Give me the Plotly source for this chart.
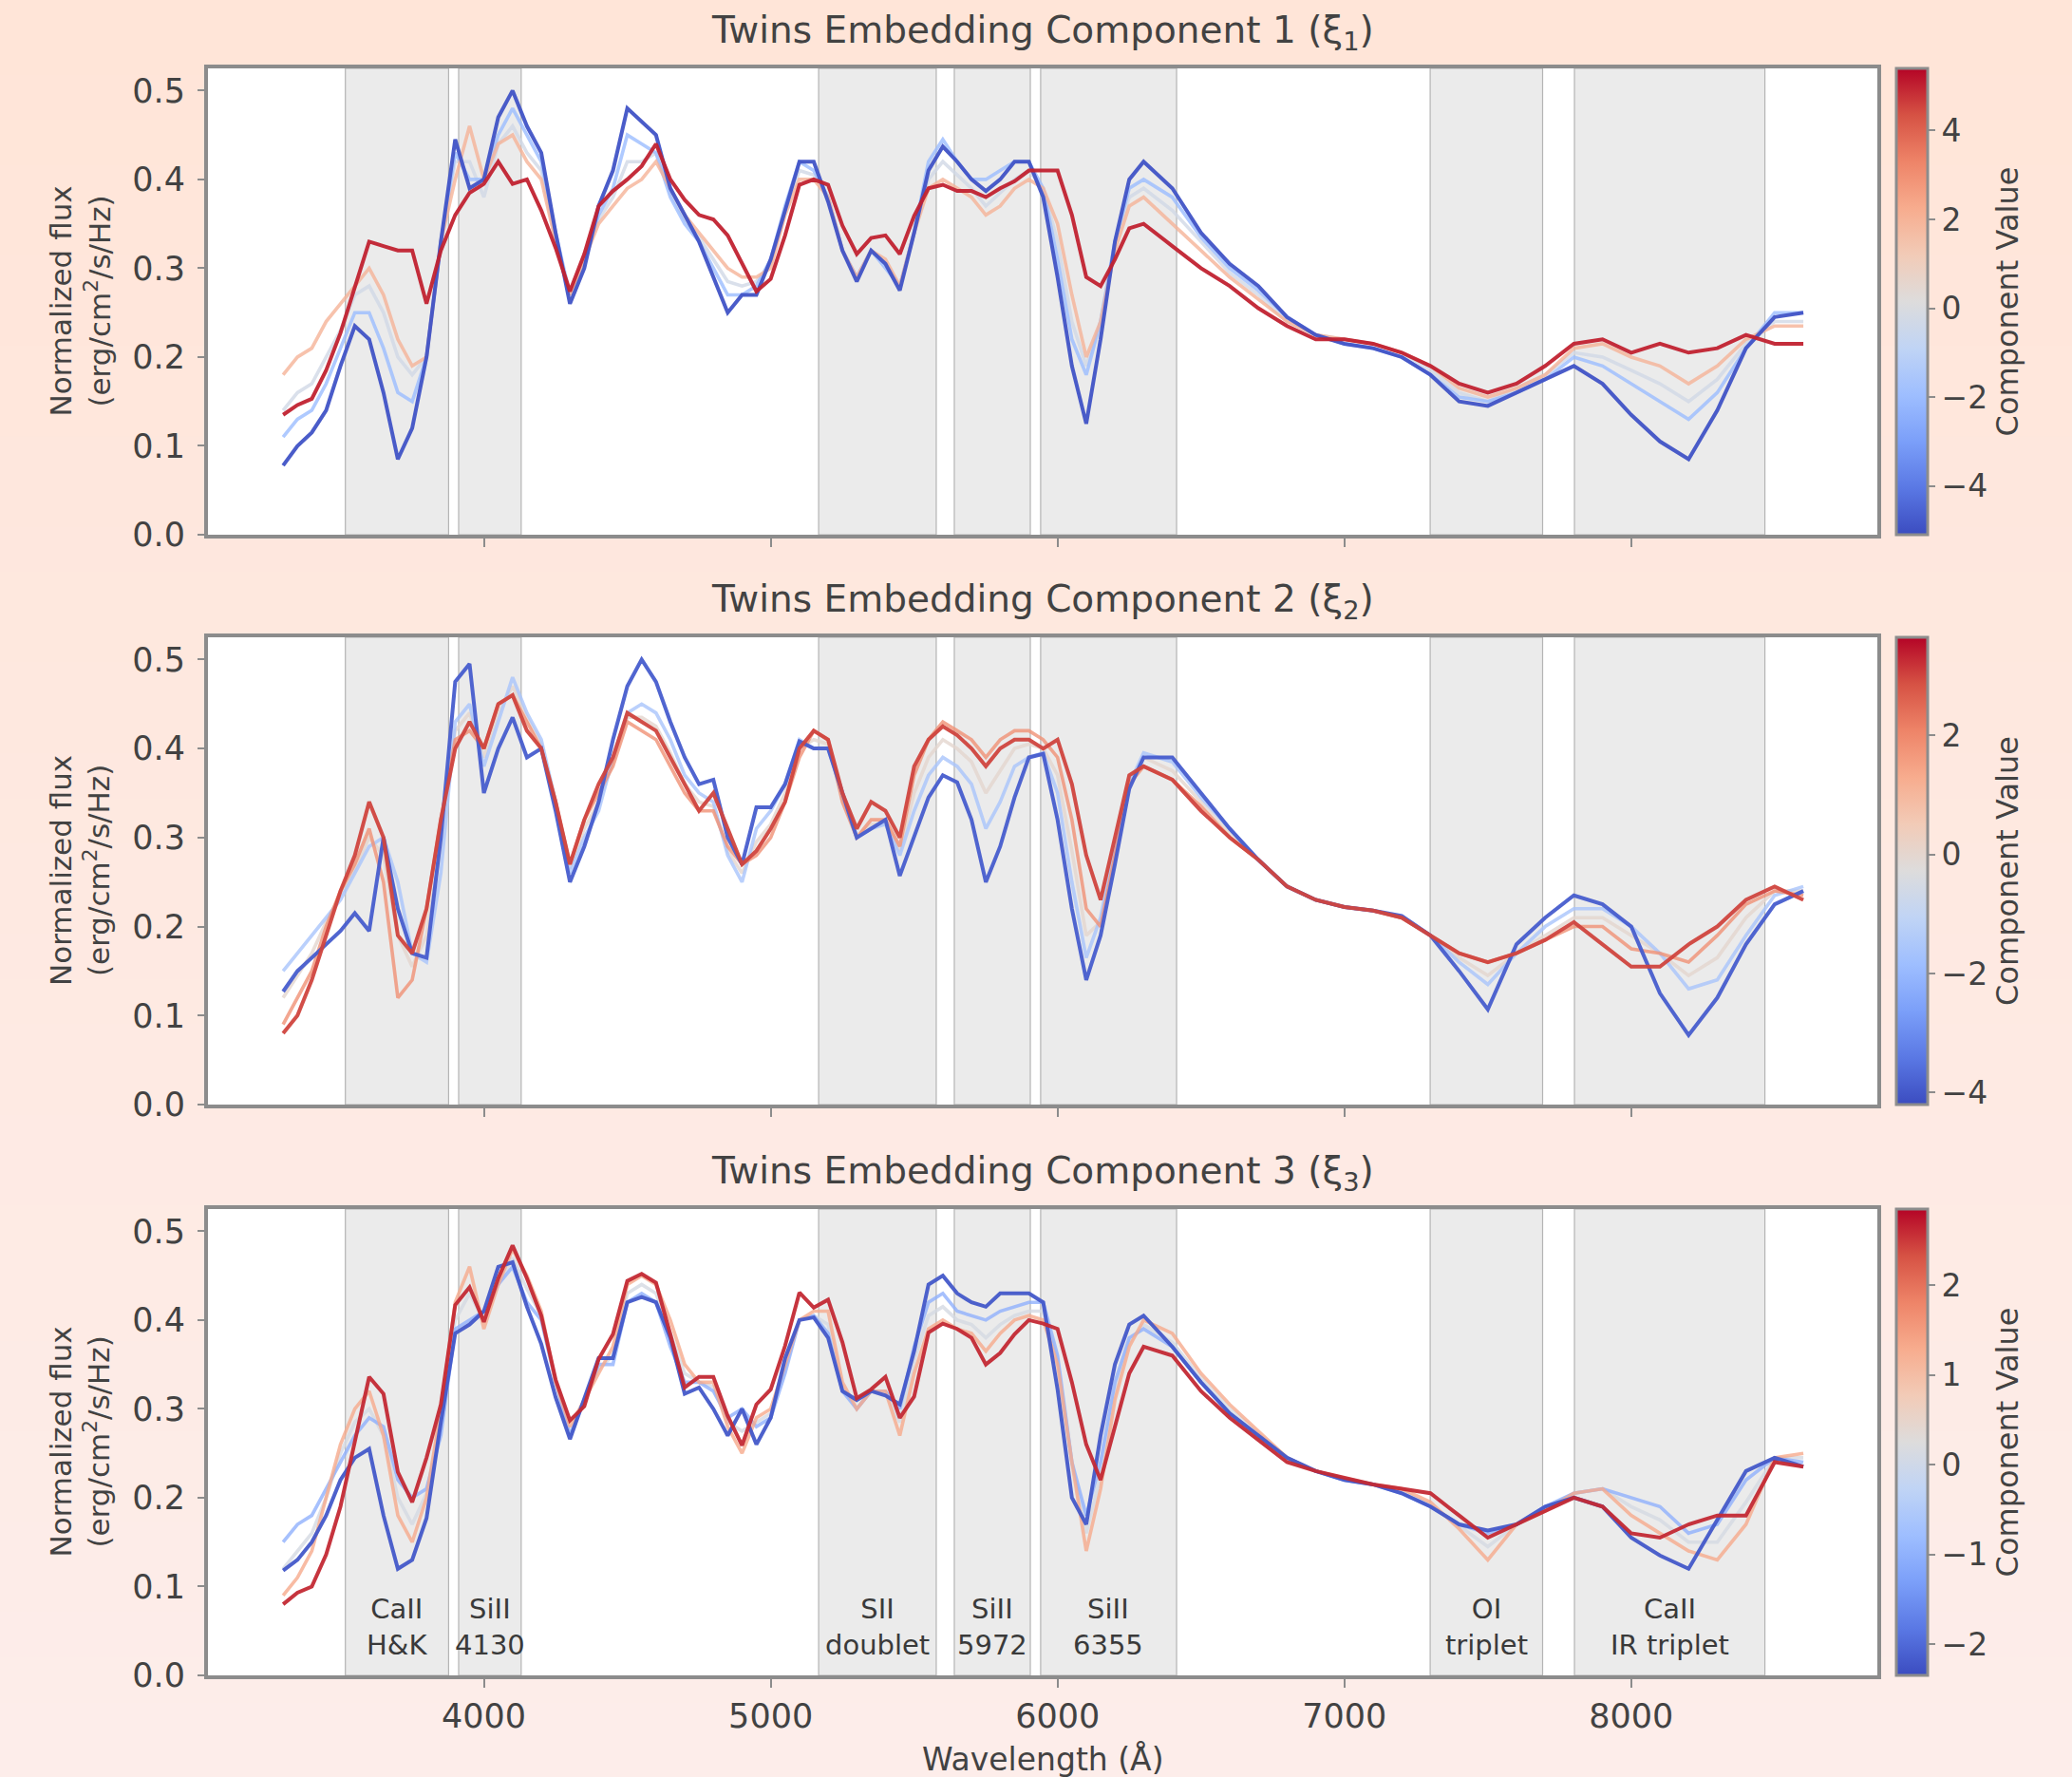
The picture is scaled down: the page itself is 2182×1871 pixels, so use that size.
import plotly.graph_objects as go

# ---------------- data ----------------
wavelength = [3300, 3350, 3400, 3450, 3500, 3550, 3600, 3650, 3700, 3750,
              3800, 3850, 3900, 3950, 4000, 4050, 4100, 4150, 4200, 4250,
              4300, 4350, 4400, 4450, 4500, 4550, 4600, 4650, 4700, 4750,
              4800, 4850, 4900, 4950, 5000, 5050, 5100, 5150, 5200, 5250,
              5300, 5350, 5400, 5450, 5500, 5550, 5600, 5650, 5700, 5750,
              5800, 5850, 5900, 5950, 6000, 6050, 6100, 6150, 6200, 6250,
              6300, 6400, 6500, 6600, 6700, 6800, 6900, 7000, 7100, 7200,
              7300, 7400, 7500, 7600, 7700, 7800, 7900, 8000, 8100, 8200,
              8300, 8400, 8500, 8600]

# Component 1 spectra (component values listed in comp1_values)
comp1_values = [-4.9, -2.0, -0.3, 2.0, 5.0]
comp1_flux_a = [.078, .10, .115, .14, .19, .235, .22, .16, .085, .12,
                .20, .33, .445, .39, .40, .47, .50, .46, .43, .34,
                .26, .30, .37, .41, .48, .465, .45, .39, .36, .33,
                .29, .25, .27, .27, .31, .365, .42, .42, .375, .32,
                .285, .32, .305, .275, .34, .41, .437, .42, .40, .387,
                .40, .42, .42, .38, .29, .19, .125, .22, .33, .40,
                .42, .39, .34, .305, .28, .245, .225, .215, .21, .20,
                .18, .15, .145, .16, .175, .19, .17, .135, .105, .085,
                .14, .21, .245, .25]
comp1_flux_b = [.11, .13, .14, .17, .21, .25, .25, .21, .16, .15,
                .20, .33, .43, .40, .40, .45, .48, .45, .42, .34,
                .27, .31, .36, .39, .45, .44, .43, .38, .35, .33,
                .30, .27, .27, .28, .31, .37, .42, .41, .38, .32,
                .29, .32, .30, .28, .34, .42, .445, .42, .40, .40,
                .41, .42, .42, .39, .31, .22, .18, .24, .33, .39,
                .40, .38, .335, .30, .275, .245, .225, .215, .21, .20,
                .18, .155, .15, .16, .175, .20, .19, .17, .15, .13,
                .16, .21, .25, .25]
comp1_flux_c = [.14, .16, .17, .20, .23, .27, .28, .25, .20, .18,
                .20, .33, .42, .42, .38, .44, .46, .43, .41, .33,
                .27, .31, .355, .38, .42, .42, .43, .385, .355, .335,
                .31, .285, .28, .285, .305, .365, .41, .405, .38, .32,
                .29, .32, .305, .28, .34, .40, .42, .405, .39, .37,
                .385, .40, .41, .39, .33, .24, .19, .24, .33, .38,
                .39, .365, .33, .295, .27, .24, .225, .22, .215, .205,
                .185, .16, .15, .165, .18, .205, .20, .185, .17, .15,
                .175, .215, .24, .24]
comp1_flux_d = [.18, .20, .21, .24, .26, .28, .30, .27, .22, .19,
                .20, .33, .40, .46, .40, .44, .45, .42, .40, .33,
                .27, .31, .35, .37, .39, .40, .42, .39, .36, .34,
                .32, .30, .29, .29, .30, .36, .40, .40, .38, .32,
                .29, .32, .31, .28, .34, .39, .40, .39, .38, .36,
                .37, .39, .40, .39, .35, .27, .20, .24, .32, .37,
                .38, .35, .32, .29, .265, .24, .225, .22, .215, .205,
                .19, .165, .155, .165, .18, .21, .215, .20, .19, .17,
                .19, .22, .235, .235]
comp1_flux_e = [.135, .146, .153, .185, .227, .28, .33, .325, .32, .32,
                .26, .32, .36, .385, .395, .42, .395, .40, .365, .323,
                .274, .316, .37, .387, .40, .415, .44, .40, .377, .36,
                .355, .337, .305, .274, .288, .337, .394, .40, .394, .348,
                .316, .334, .337, .316, .359, .39, .394, .387, .387, .38,
                .39, .398, .41, .41, .41, .36, .29, .28, .31, .345,
                .35, .325, .30, .28, .255, .235, .22, .22, .215, .205,
                .19, .17, .16, .17, .19, .215, .22, .205, .215, .205,
                .21, .225, .215, .215]

# Component 2 spectra
comp2_values = [-3.9, -1.6, 0.0, 1.8, 3.0]
comp2_flux_a = [.127, .15, .165, .18, .195, .215, .195, .30, .22, .17,
                .165, .30, .475, .495, .35, .40, .435, .39, .40, .33,
                .25, .29, .34, .41, .47, .50, .475, .43, .39, .36,
                .365, .30, .27, .334, .334, .36, .408, .40, .40, .35,
                .30, .31, .32, .257, .30, .345, .37, .362, .32, .25,
                .29, .345, .39, .394, .32, .22, .14, .19, .27, .355,
                .39, .39, .35, .31, .275, .245, .23, .222, .218, .212,
                .19, .15, .107, .18, .21, .235, .225, .20, .125, .078,
                .12, .18, .225, .24]
comp2_flux_b = [.15, .17, .19, .21, .23, .26, .29, .30, .25, .17,
                .16, .26, .43, .45, .38, .43, .48, .44, .41, .34,
                .26, .30, .33, .39, .44, .45, .44, .41, .37, .35,
                .34, .28, .25, .31, .33, .36, .41, .40, .40, .35,
                .30, .31, .315, .28, .33, .37, .39, .38, .36, .31,
                .34, .38, .39, .395, .35, .25, .165, .21, .29, .36,
                .395, .385, .345, .31, .275, .245, .23, .222, .218, .21,
                .19, .16, .135, .17, .20, .22, .22, .20, .17, .13,
                .14, .19, .235, .245]
comp2_flux_c = [.12, .145, .17, .205, .235, .265, .30, .28, .19, .155,
                .19, .29, .42, .44, .39, .44, .47, .435, .405, .34,
                .265, .31, .34, .385, .435, .435, .425, .395, .36, .34,
                .335, .285, .26, .295, .315, .35, .40, .41, .405, .345,
                .30, .315, .315, .285, .35, .39, .41, .40, .385, .35,
                .375, .40, .405, .40, .37, .285, .19, .205, .285, .36,
                .39, .375, .34, .305, .275, .245, .23, .222, .218, .21,
                .19, .165, .145, .17, .19, .21, .21, .19, .17, .145,
                .165, .21, .24, .24]
comp2_flux_d = [.09, .12, .15, .20, .24, .27, .31, .25, .12, .14,
                .22, .32, .41, .42, .40, .45, .46, .43, .40, .34,
                .27, .32, .35, .38, .43, .42, .41, .38, .35, .33,
                .33, .29, .27, .28, .30, .34, .39, .42, .41, .34,
                .30, .32, .32, .29, .37, .41, .43, .42, .41, .39,
                .41, .42, .42, .41, .39, .32, .22, .20, .28, .36,
                .38, .365, .335, .30, .275, .245, .23, .222, .218, .21,
                .19, .17, .16, .17, .185, .20, .20, .175, .17, .16,
                .19, .225, .24, .235]
comp2_flux_e = [.08, .10, .14, .19, .24, .28, .34, .30, .19, .17,
                .22, .32, .40, .43, .40, .45, .46, .42, .40, .34,
                .27, .32, .36, .39, .44, .43, .42, .39, .36, .33,
                .35, .31, .27, .285, .31, .34, .40, .42, .41, .35,
                .31, .34, .33, .30, .38, .41, .425, .415, .40, .38,
                .40, .41, .41, .40, .41, .36, .28, .23, .30, .37,
                .38, .365, .33, .30, .275, .245, .23, .222, .218, .21,
                .19, .17, .16, .17, .185, .205, .18, .155, .155, .18,
                .20, .23, .245, .23]

# Component 3 spectra
comp3_values = [-2.2, -1.0, 0.1, 1.3, 2.6]
comp3_flux_a = [.118, .13, .15, .18, .22, .245, .255, .18, .12, .13,
                .177, .285, .385, .395, .41, .46, .465, .415, .373, .313,
                .266, .313, .357, .357, .42, .426, .42, .38, .317, .324,
                .30, .27, .30, .26, .29, .357, .40, .403, .38, .32,
                .31, .32, .315, .305, .365, .44, .45, .43, .42, .415,
                .43, .43, .43, .42, .322, .20, .17, .27, .35, .395,
                .405, .37, .33, .295, .27, .245, .23, .22, .215, .205,
                .19, .17, .163, .17, .19, .20, .19, .155, .135, .12,
                .175, .23, .245, .235]
comp3_flux_b = [.15, .17, .18, .21, .24, .27, .29, .28, .22, .20,
                .21, .27, .39, .40, .41, .44, .46, .42, .40, .33,
                .27, .31, .35, .35, .42, .43, .42, .37, .33, .33,
                .32, .29, .30, .28, .29, .34, .40, .405, .385, .32,
                .30, .32, .32, .30, .37, .42, .43, .41, .405, .40,
                .41, .415, .42, .42, .36, .24, .18, .24, .33, .38,
                .39, .37, .33, .295, .27, .245, .23, .22, .215, .205,
                .19, .17, .16, .17, .19, .205, .21, .20, .19, .16,
                .17, .22, .245, .24]
comp3_flux_c = [.12, .14, .16, .20, .25, .285, .30, .27, .20, .17,
                .205, .29, .40, .43, .40, .44, .47, .435, .405, .33,
                .275, .31, .345, .36, .43, .44, .43, .385, .34, .33,
                .325, .285, .275, .285, .295, .345, .40, .405, .395, .325,
                .30, .32, .32, .285, .355, .405, .415, .40, .395, .38,
                .395, .405, .41, .41, .355, .24, .16, .225, .32, .375,
                .395, .375, .335, .30, .272, .245, .23, .22, .215, .207,
                .192, .168, .145, .17, .188, .205, .21, .19, .175, .15,
                .15, .195, .245, .245]
comp3_flux_d = [.09, .11, .14, .20, .26, .30, .32, .27, .18, .15,
                .20, .30, .42, .46, .39, .44, .48, .45, .41, .33,
                .28, .31, .34, .37, .44, .45, .44, .40, .35, .33,
                .33, .28, .25, .29, .30, .35, .40, .41, .41, .33,
                .30, .32, .32, .27, .34, .39, .40, .39, .385, .365,
                .385, .40, .405, .40, .35, .24, .14, .21, .31, .37,
                .40, .385, .34, .305, .275, .245, .23, .222, .215, .21,
                .195, .165, .13, .17, .185, .205, .21, .18, .16, .14,
                .13, .17, .245, .25]
comp3_flux_e = [.08, .093, .10, .136, .19, .265, .336, .317, .229, .195,
                .245, .305, .417, .437, .398, .447, .484, .447, .405, .333,
                .287, .303, .356, .384, .444, .452, .442, .384, .324, .336,
                .336, .292, .259, .305, .322, .371, .431, .414, .423, .375,
                .312, .322, .336, .29, .314, .386, .396, .39, .38, .35,
                .363, .384, .40, .396, .39, .33, .26, .22, .28, .34,
                .37, .36, .32, .29, .265, .24, .23, .223, .215, .21,
                .205, .18, .155, .17, .185, .20, .19, .16, .155, .17,
                .18, .18, .24, .235]

colorbar_ranges = [(-5.1, 5.4), (-4.2, 3.65), (-2.35, 2.85)]
colorbar_ticks = [[-4, -2, 0, 2, 4], [-4, -2, 0, 2], [-2, -1, 0, 1, 2]]

panel_titles = ["Twins Embedding Component 1 (ξ<sub>1</sub>)",
                "Twins Embedding Component 2 (ξ<sub>2</sub>)",
                "Twins Embedding Component 3 (ξ<sub>3</sub>)"]

feature_names = ["CaII<br>H&K", "SiII<br>4130", "SII<br>doublet", "SiII<br>5972",
                 "SiII<br>6355", "OI<br>triplet", "CaII<br>IR triplet"]
feature_starts = [3517, 3912, 5167, 5640, 5941, 7299, 7802]
feature_ends = [3877, 4130, 5577, 5905, 6415, 7691, 8466]

x_ticks = [4000, 5000, 6000, 7000, 8000]
y_ticks = [0.0, 0.1, 0.2, 0.3, 0.4, 0.5]

# ---------------- style ----------------
coolwarm = ["#3b4cc0", "#5a78e4", "#7b9ff9", "#9ebeff", "#c0d4f5", "#dddcdc",
            "#f2cbb7", "#f7ac8e", "#ee8468", "#d65244", "#b40426"]
colorscale = [[i / 10, c] for i, c in enumerate(coolwarm)]


def hex2rgb(h):
    h = h.lstrip("#")
    return tuple(int(h[i:i + 2], 16) for i in (0, 2, 4))


def cmap(t):
    t = min(max(t, 0.0), 1.0)
    pos = t * 10
    i = min(int(pos), 9)
    f = pos - i
    a, b = hex2rgb(coolwarm[i]), hex2rgb(coolwarm[i + 1])
    return "rgb(%d,%d,%d)" % tuple(round(a[k] + (b[k] - a[k]) * f) for k in range(3))


W, H = 2182, 1871
ML, MR, MT, MB = 219, 205, 72, 107
PW, PH = W - ML - MR, H - MT - MB
domains = [[0.7098, 1.0], [0.3552, 0.6460], [0.0, 0.2902]]
FONT = "DejaVu Sans"
TXT = "#424242"
SPINE = "#8c8c8c"

panels = [
    (comp1_values, [comp1_flux_a, comp1_flux_b, comp1_flux_c, comp1_flux_d, comp1_flux_e]),
    (comp2_values, [comp2_flux_a, comp2_flux_b, comp2_flux_c, comp2_flux_d, comp2_flux_e]),
    (comp3_values, [comp3_flux_a, comp3_flux_b, comp3_flux_c, comp3_flux_d, comp3_flux_e]),
]

fig = go.Figure()
shapes = []
annotations = []

# background gradient (peach at the top to pink at the bottom)
top_c, bot_c = (255, 229, 216), (253, 237, 234)
nb = 40
y_lo, y_hi = -MB / PH - 0.01, 1 + MT / PH + 0.01
for k in range(nb):
    f = k / (nb - 1)
    col = tuple(round(top_c[j] + (bot_c[j] - top_c[j]) * f) for j in range(3))
    y1 = y_hi - (y_hi - y_lo) * k / nb
    y0 = y_hi - (y_hi - y_lo) * (k + 1) / nb - 0.002
    shapes.append(dict(type="rect", xref="paper", yref="paper", x0=-0.2, x1=1.2,
                       y0=y0, y1=y1, fillcolor="rgb(%d,%d,%d)" % col,
                       line=dict(width=0), layer="below"))

for p, (vals, fluxes) in enumerate(panels):
    sfx = "" if p == 0 else str(p + 1)
    xa, ya = "x" + sfx, "y" + sfx
    cmin, cmax = colorbar_ranges[p]

    # white plotting area + shaded line regions
    shapes.append(dict(type="rect", xref=xa + " domain", yref=ya + " domain",
                       x0=0, x1=1, y0=0, y1=1, fillcolor="white",
                       line=dict(width=0), layer="below"))
    for s, e in zip(feature_starts, feature_ends):
        shapes.append(dict(type="rect", xref=xa, yref=ya + " domain",
                           x0=s, x1=e, y0=0, y1=1, fillcolor="#ebebeb",
                           line=dict(color="#b4b4b4", width=1.2), layer="below"))

    order = [2, 1, 3, 0, 4]
    for i in order:
        v = vals[i]
        extreme = i in (0, 4)
        fig.add_trace(go.Scatter(
            x=wavelength, y=fluxes[i], mode="lines", xaxis=xa, yaxis=ya,
            line=dict(color=cmap((v - cmin) / (cmax - cmin)),
                      width=4.0 if extreme else 3.6),
            opacity=0.95 if extreme else 0.8, showlegend=False,
            hoverinfo="skip"))

    d0, d1 = domains[p]
    fig.add_trace(go.Scatter(
        x=[3000], y=[-1], mode="markers", xaxis=xa, yaxis=ya, showlegend=False,
        hoverinfo="skip",
        marker=dict(size=1, color=[cmin], cmin=cmin, cmax=cmax,
                    colorscale=colorscale, showscale=True,
                    colorbar=dict(
                        x=1 + 20 / PW, xanchor="left", xpad=0, ypad=0,
                        y=(d0 + d1) / 2, yanchor="middle", len=d1 - d0,
                        lenmode="fraction", thickness=33,
                        outlinecolor=SPINE, outlinewidth=3,
                        tickmode="array", tickvals=colorbar_ticks[p],
                        ticks="outside", ticklen=7, tickwidth=2, tickcolor=SPINE,
                        tickfont=dict(family=FONT, size=33, color=TXT),
                        title=dict(text="Component Value", side="right",
                                   font=dict(family=FONT, size=32, color=TXT))))))

    # panel title
    annotations.append(dict(text=panel_titles[p], xref="paper", yref="paper",
                            x=0.5, y=d1 + 38 / PH, xanchor="center", yanchor="middle",
                            showarrow=False, font=dict(family=FONT, size=39, color=TXT)))
    # y-axis label
    annotations.append(dict(text="Normalized flux<br>(erg/cm<sup>2</sup>/s/Hz)",
                            xref="paper", yref="paper", x=(84 - ML) / PW,
                            y=(d0 + d1) / 2, xanchor="center", yanchor="middle",
                            textangle=-90, showarrow=False,
                            font=dict(family=FONT, size=31, color=TXT)))

    axis_common = dict(showline=True, linecolor=SPINE, linewidth=4, mirror=True,
                       showgrid=False, zeroline=False, ticks="outside",
                       tickcolor=SPINE, tickwidth=2,
                       tickfont=dict(family=FONT, size=35, color=TXT))
    fig.update_layout(**{
        ("xaxis" + sfx): dict(axis_common, domain=[0, 1], anchor=ya,
                              range=[3038, 8858], tickvals=x_ticks, ticklen=9,
                              showticklabels=(p == 2)),
        ("yaxis" + sfx): dict(axis_common, domain=domains[p], anchor=xa,
                              range=[0, 0.525], tickvals=y_ticks, tickformat=".1f",
                              ticklen=7, ticklabelstandoff=6),
    })

# line-region labels in the bottom panel
for name, s, e in zip(feature_names, feature_starts, feature_ends):
    annotations.append(dict(text=name, xref="x3", yref="y3", x=(s + e) / 2, y=0.054,
                            xanchor="center", yanchor="middle", showarrow=False,
                            font=dict(family=FONT, size=29, color="#3a3a3a")))

annotations.append(dict(text="Wavelength (Å)", xref="paper", yref="paper",
                        x=0.5, y=-88 / PH, xanchor="center", yanchor="middle",
                        showarrow=False, font=dict(family=FONT, size=33, color=TXT)))

fig.update_layout(width=W, height=H,
                  margin=dict(l=ML, r=MR, t=MT, b=MB),
                  paper_bgcolor="rgb(254,233,225)", plot_bgcolor="white",
                  shapes=shapes, annotations=annotations, showlegend=False)

fig.write_html("out.html")
